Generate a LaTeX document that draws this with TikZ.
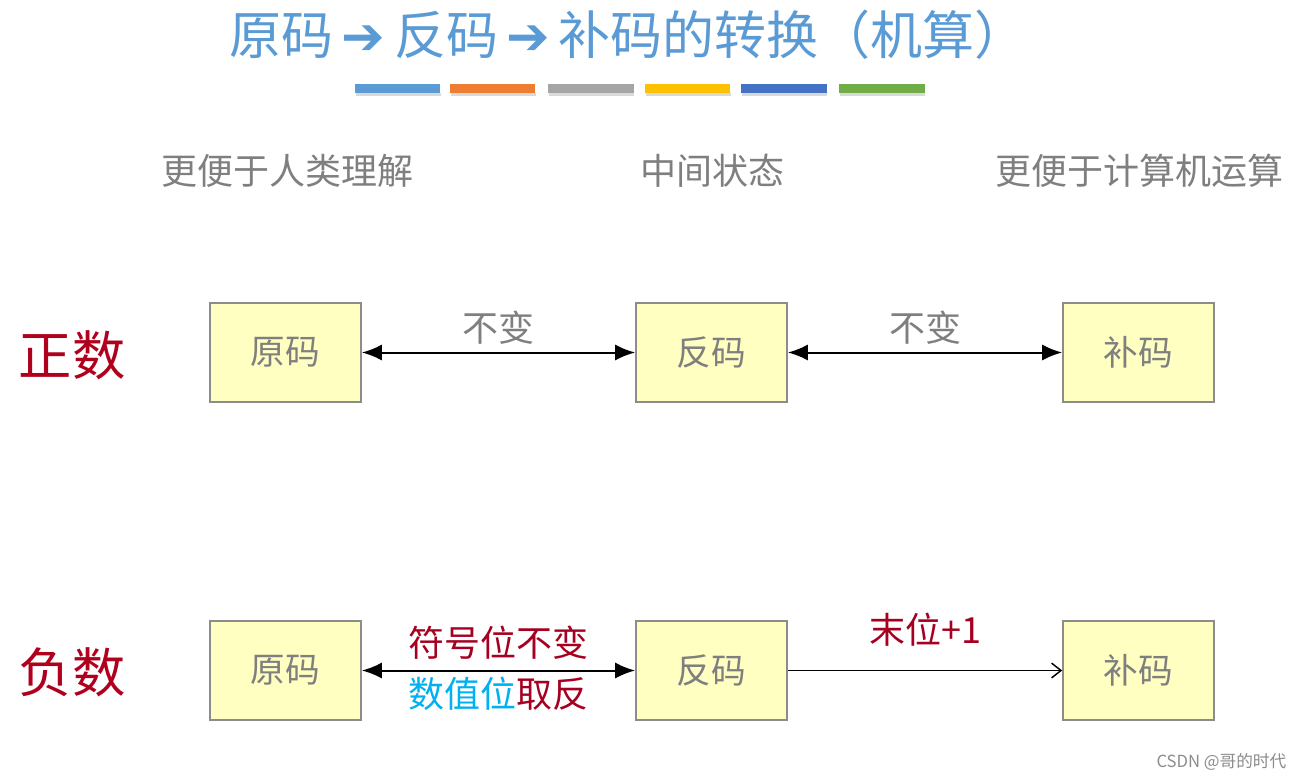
\documentclass[tikz,border=0pt]{standalone}
\usepackage{fontspec}
\usetikzlibrary{arrows.meta}
\newfontfamily\cjk{Noto Sans CJK SC}
\newfontfamily\dejavu{DejaVu Sans}
\definecolor{titleblue}{HTML}{5B9BD5}
\definecolor{grtext}{HTML}{7F7F7F}
\definecolor{boxfill}{HTML}{FFFFC2}
\definecolor{boxline}{HTML}{8C8C8C}
\definecolor{darkred}{HTML}{A50021}
\definecolor{signred}{HTML}{B0001E}
\definecolor{cyanb}{HTML}{00B0F0}
\definecolor{b1}{HTML}{5B9BD5}
\definecolor{b2}{HTML}{ED7D31}
\definecolor{b3}{HTML}{A5A5A5}
\definecolor{b4}{HTML}{FFC000}
\definecolor{b5}{HTML}{4472C4}
\definecolor{b6}{HTML}{70AD47}
\tikzset{
  codebox/.style={draw=boxline, fill=boxfill, line width=1.5pt, minimum width=113pt, minimum height=74pt, inner sep=0pt, font=\cjk\fontsize{26}{28}\selectfont, text=grtext},
  header/.style={font=\cjk\fontsize{27}{29}\selectfont, text=grtext},
  lbl/.style={font=\cjk\fontsize{27}{29}\selectfont, text=grtext},
  redlbl/.style={font=\cjk\fontsize{27}{29}\selectfont, text=darkred},
  sign/.style={font=\cjk\fontsize{40}{43}\selectfont, text=signred},
  dbl/.style={line width=1.5pt, {Latex[length=15pt,width=12pt]}-{Latex[length=15pt,width=12pt]}},
  single/.style={line width=1.1pt, -{Straight Barb[length=7pt,width=11pt]}},
  bar/.style={minimum width=64pt, minimum height=7pt, inner sep=0pt},
}
\begin{document}
\begin{tikzpicture}[x=0.75pt,y=-0.75pt]
\useasboundingbox (0,0) rectangle (1305,780);
\fill[white] (0,0) rectangle (1305,780);
% title
\node[font=\cjk\fontsize{39}{42}\selectfont, text=titleblue, inner sep=0pt] (title) at (628,35) {原码\,{\dejavu\bfseries ➔}\,反码\,{\dejavu\bfseries ➔}\,补码的转换（机算）};
% colour bars
\foreach \c/\x in {b1/397.5, b2/492.5, b3/591, b4/687.5, b5/784, b6/882}{
  \fill[black!15] (\x-42,93) rectangle (\x+43,96);
  \node[bar, fill=\c] (bar\c) at (\x,88.5) {};
}
% headers
\node[header] (h1) at (287,171) {更便于人类理解};
\node[header] (h2) at (712,171) {中间状态};
\node[header] (h3) at (1139,171) {更便于计算机运算};
% row labels
\node[sign] (pos) at (72,355) {正数};
\node[sign] (neg) at (72,672) {负数};
% top row
\node[codebox] (y1) at (285.5,352.5) {原码};
\node[codebox] (f1) at (711.5,352.5) {反码};
\node[codebox] (b1n) at (1138.5,352.5) {补码};
\draw[dbl] (y1) -- (f1) node[midway, above=2pt, lbl] (l1) {不变};
\draw[dbl] (f1) -- (b1n) node[midway, above=2pt, lbl] (l2) {不变};
% bottom row
\node[codebox] (y2) at (285.5,670.5) {原码};
\node[codebox] (f2) at (711.5,670.5) {反码};
\node[codebox] (b2n) at (1138.5,670.5) {补码};
\draw[dbl] (y2) -- (f2);
\node[redlbl] (l3) at (498,643) {符号位不变};
\node[font=\cjk\fontsize{27}{29}\selectfont] (l4) at (498,694) {\textcolor{cyanb}{数值位}\textcolor{darkred}{取反}};
\draw[single] (f2) -- (b2n);
\node[redlbl] (l5) at (925,630) {末位+1};
% watermark
\node[font=\cjk\fontsize{12.5}{14}\selectfont, text=black!45, anchor=east] (wm) at (1291,762) {CSDN @哥的时代};
\end{tikzpicture}
\end{document}
